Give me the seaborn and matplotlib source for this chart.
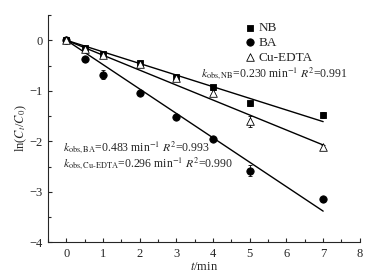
import numpy as np
import pandas as pd
import matplotlib
matplotlib.use('Agg')
import matplotlib.pyplot as plt
import seaborn as sns
from matplotlib.ticker import MultipleLocator

# 数据
t = [0, 0.5, 1, 2, 3, 4, 5, 7]
nb = [0, -0.15, -0.28, -0.45, -0.73, -0.93, -1.25, -1.48]
nb_err = [0, 0.03, 0.04, 0.04, 0.05, 0.05, 0.05, 0.06]
ba = [0, -0.38, -0.68, -1.05, -1.51, -1.95, -2.58, -3.15]
ba_err = [0, 0.04, 0.09, 0.04, 0.04, 0.04, 0.11, 0.05]
cu = [0, -0.18, -0.30, -0.46, -0.74, -1.05, -1.60, -2.12]
cu_err = [0, 0.03, 0.04, 0.05, 0.05, 0.06, 0.11, 0.05]
k_obs = {'NB': 0.230, 'BA': 0.483, 'Cu-EDTA': 0.296}

df = pd.DataFrame({
    't': t * 3,
    'lnC': nb + ba + cu,
    'err': nb_err + ba_err + cu_err,
    'series': ['NB'] * 8 + ['BA'] * 8 + ['Cu-EDTA'] * 8,
})

sns.set_style('ticks')
plt.rcParams['font.family'] = ['Liberation Serif', 'DejaVu Serif']
plt.rcParams['mathtext.fontset'] = 'stix'
plt.rcParams['font.size'] = 9

fig = plt.figure(figsize=(3.76, 2.78), dpi=100)
ax = fig.add_axes([0.128, 0.128, 0.829, 0.818])

styles = {
    'NB': dict(marker='s', color='black', edgecolor='black', s=24),
    'BA': dict(marker='o', color='black', edgecolor='black', s=28),
    'Cu-EDTA': dict(marker='^', color='white', edgecolor='black', s=30),
}

# 拟合直线
tt = np.array([0, 7])
for name, k in k_obs.items():
    sns.lineplot(x=tt, y=-k * tt, color='black', lw=1.0, ax=ax, zorder=1)

for name, st in styles.items():
    d = df[df['series'] == name]
    ax.errorbar(d['t'], d['lnC'], yerr=d['err'], fmt='none', ecolor='black',
                elinewidth=0.6, capsize=1.5, capthick=0.6, zorder=2)
    sns.scatterplot(data=d, x='t', y='lnC', marker=st['marker'], color=st['color'],
                    edgecolor=st['edgecolor'], linewidth=0.6, s=st['s'], ax=ax,
                    zorder=3, label=name)

ax.set_xlim(-0.5, 8)
ax.set_ylim(-4, 0.5)
ax.xaxis.set_major_locator(MultipleLocator(1))
ax.xaxis.set_minor_locator(MultipleLocator(0.5))
ax.yaxis.set_minor_locator(MultipleLocator(0.5))
ax.set_yticks([0, -1, -2, -3, -4])
ax.set_yticklabels(['0', '\u22121', '\u22122', '\u22123', '\u22124'])
ax.tick_params(which='both', direction='in', labelsize=9, width=0.8, pad=4)
ax.tick_params(which='major', length=3)
ax.tick_params(which='minor', length=2)
sns.despine(ax=ax)
for sp in ['left', 'bottom']:
    ax.spines[sp].set_linewidth(0.8)

ax.set_xlabel('$t$/min', fontsize=9, labelpad=1)
ax.set_ylabel('ln($C_t$/$C_0$)', fontsize=9, labelpad=0)

ax.legend(loc='upper left', bbox_to_anchor=(0.6, 1.005), frameon=False, fontsize=9.5,
          handletextpad=0.2, labelspacing=0.2, borderaxespad=0.2, handlelength=1.0)

ax.text(3.67, -0.74, r'$k_{\mathrm{obs,NB}}$=0.230 min$^{-1}$ $R^2$=0.991', fontsize=8.5)
ax.text(-0.1, -2.2, r'$k_{\mathrm{obs,BA}}$=0.483 min$^{-1}$ $R^2$=0.993', fontsize=8.5)
ax.text(-0.1, -2.52, r'$k_{\mathrm{obs,Cu\text{-}EDTA}}$=0.296 min$^{-1}$ $R^2$=0.990', fontsize=8.5)

fig.savefig('out.png', dpi=100)
